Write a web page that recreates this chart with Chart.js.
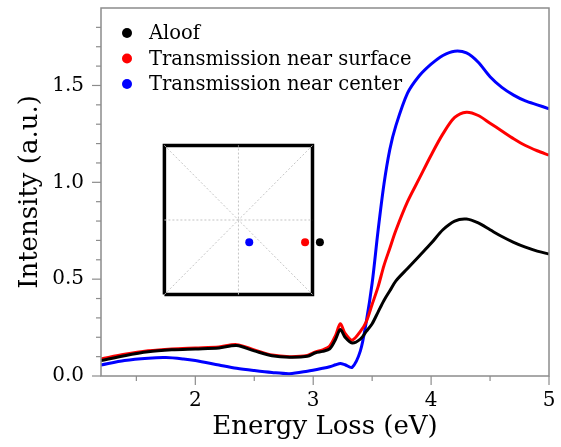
<!DOCTYPE html>
<html><head><meta charset="utf-8">
<script src="https://cdn.jsdelivr.net/npm/chart.js@4.4.0/dist/chart.umd.min.js"></script>
<style>
html,body{margin:0;padding:0;background:#fff;}
#wrap{position:relative;width:561px;height:447px;overflow:hidden;}
#mainBox{position:absolute;left:0;top:0;width:561px;height:447px;}
#insetBox{position:absolute;left:157px;top:138px;width:174px;height:164px;}
</style></head><body>
<div id="wrap">
  <div id="mainBox"><canvas id="main"></canvas></div>
  <div id="insetBox"><canvas id="inset"></canvas></div>
</div>
<script>
// ---------------- data ----------------
const seriesLabels = ["Aloof", "Transmission near surface", "Transmission near center"];

const energyAloof = [1.2,1.4,1.6,1.8,2.0,2.2,2.35,2.5,2.65,2.8,2.95,3.02,3.08,3.14,3.19,3.23,3.27,3.33,3.4,3.45,3.5,3.55,3.6,3.65,3.7,3.8,3.9,4.0,4.1,4.2,4.3,4.4,4.5,4.6,4.7,4.8,4.9,5.0];
const aloof       = [0.08,0.105,0.125,0.135,0.14,0.145,0.157,0.13,0.105,0.097,0.102,0.12,0.127,0.14,0.19,0.24,0.2,0.17,0.19,0.23,0.27,0.33,0.39,0.44,0.49,0.555,0.62,0.685,0.755,0.8,0.81,0.79,0.755,0.72,0.69,0.665,0.645,0.63];

const energySurface = [1.2,1.4,1.6,1.8,2.0,2.2,2.35,2.5,2.65,2.8,2.95,3.02,3.08,3.14,3.19,3.23,3.27,3.33,3.4,3.45,3.5,3.55,3.6,3.65,3.7,3.8,3.9,4.0,4.1,4.2,4.3,4.4,4.5,4.6,4.7,4.8,4.9,5.0];
const nearSurface   = [0.088,0.112,0.13,0.14,0.145,0.15,0.162,0.135,0.108,0.1,0.106,0.125,0.135,0.155,0.21,0.27,0.22,0.185,0.23,0.28,0.37,0.46,0.57,0.66,0.75,0.9,1.02,1.14,1.25,1.335,1.362,1.345,1.305,1.265,1.225,1.19,1.163,1.14];

const energyCenter = [1.2,1.4,1.6,1.75,1.9,2.0,2.2,2.35,2.5,2.65,2.8,2.95,3.08,3.14,3.19,3.23,3.27,3.33,3.4,3.45,3.5,3.55,3.6,3.65,3.7,3.8,3.9,4.0,4.1,4.2,4.3,4.4,4.5,4.6,4.7,4.8,4.9,5.0];
const nearCenter   = [0.057,0.08,0.092,0.095,0.088,0.08,0.057,0.04,0.028,0.018,0.012,0.025,0.04,0.048,0.058,0.065,0.058,0.045,0.13,0.28,0.48,0.75,0.99,1.17,1.29,1.46,1.55,1.61,1.655,1.677,1.668,1.62,1.545,1.49,1.45,1.42,1.40,1.38];

const xTickLabels = [2, 3, 4, 5];
const xMinorTicks = [1.5, 2.5, 3.5, 4.5];
const yTickLabels = [0, 0.5, 1.0, 1.5];
const yMinorTicks = [0.1,0.2,0.3,0.4,0.6,0.7,0.8,0.9,1.1,1.2,1.3,1.4,1.6,1.7,1.8];

// inset (probe positions in a unit square)
const insetProbeX = [1.1, 0.9, 0.146];
const insetProbeY = [-0.3, -0.3, -0.3];
const insetSquareX = [-1, 1, 1, -1, -1];
const insetSquareY = [-1, -1, 1, 1, -1];

const colors = ["#000000", "#ff0000", "#0000ff"];
const serif = '"DejaVu Serif", "Liberation Serif", serif';

const pts = (xs, ys) => xs.map((x, i) => ({x: x, y: ys[i]}));

// ---------------- plugins ----------------
const framePlugin = {
  id: 'frameTicks',
  afterDatasetsDraw(chart) {
    const {ctx, chartArea: a, scales: {x, y}} = chart;
    ctx.save();
    ctx.strokeStyle = '#8c8c8c';
    ctx.lineWidth = 1.5;
    ctx.strokeRect(a.left, a.top, a.right - a.left, a.bottom - a.top);
    ctx.lineWidth = 1.2;
    const seg = (x1, y1, x2, y2) => { ctx.beginPath(); ctx.moveTo(x1, y1); ctx.lineTo(x2, y2); ctx.stroke(); };
    yTickLabels.forEach(v => { const p = y.getPixelForValue(v); seg(a.left - 9, p, a.left, p); });
    yMinorTicks.forEach(v => { const p = y.getPixelForValue(v); seg(a.left - 5, p, a.left, p); });
    xTickLabels.forEach(v => { const p = x.getPixelForValue(v); seg(p, a.bottom, p, a.bottom + 9); });
    xMinorTicks.forEach(v => { const p = x.getPixelForValue(v); seg(p, a.bottom, p, a.bottom + 5); });
    ctx.restore();
  }
};

const legendPlugin = {
  id: 'insideLegend',
  afterDraw(chart) {
    const ctx = chart.ctx, a = chart.chartArea;
    ctx.save();
    ctx.font = '19.5px ' + serif;
    ctx.textBaseline = 'middle';
    ctx.textAlign = 'left';
    chart.data.datasets.forEach((ds, i) => {
      const yy = a.top + 25 + i * 25.5;
      ctx.fillStyle = ds.borderColor;
      ctx.beginPath(); ctx.arc(a.left + 26, yy, 5, 0, 2 * Math.PI); ctx.fill();
      ctx.fillStyle = '#000';
      ctx.fillText(ds.label, a.left + 48, yy + 1);
    });
    ctx.restore();
  }
};

const noPad = s => { s.paddingTop = 0; s.paddingBottom = 0; s.paddingLeft = 0; s.paddingRight = 0; };

// ---------------- main chart ----------------
new Chart(document.getElementById('main'), {
  type: 'line',
  data: {
    datasets: [
      {label: seriesLabels[0], data: pts(energyAloof, aloof), borderColor: colors[0], backgroundColor: colors[0]},
      {label: seriesLabels[1], data: pts(energySurface, nearSurface), borderColor: colors[1], backgroundColor: colors[1]},
      {label: seriesLabels[2], data: pts(energyCenter, nearCenter), borderColor: colors[2], backgroundColor: colors[2]}
    ].map(d => Object.assign(d, {borderWidth: 3, pointRadius: 0, pointHoverRadius: 0, tension: 0.3, fill: false}))
  },
  options: {
    responsive: true,
    maintainAspectRatio: false,
    animation: false,
    layout: {padding: {top: 8, right: 12, left: 0, bottom: 0}, autoPadding: false},
    plugins: {legend: {display: false}, tooltip: {enabled: false}},
    scales: {
      x: {
        type: 'linear', min: 1.2, max: 5,
        afterBuildTicks: s => { s.ticks = xTickLabels.map(v => ({value: v})); },
        afterFit: s => { s.height = 71; noPad(s); },
        grid: {display: false, drawTicks: false},
        border: {display: false},
        ticks: {font: {family: serif, size: 20}, color: '#000', padding: 13, maxRotation: 0, callback: v => String(v)},
        title: {display: true, text: 'Energy Loss (eV)', font: {family: serif, size: 26}, color: '#000', padding: {top: 0, bottom: 4}}
      },
      y: {
        type: 'linear', min: 0, max: 1.9,
        afterBuildTicks: s => { s.ticks = yTickLabels.map(v => ({value: v})); },
        afterFit: s => { s.width = 101; noPad(s); },
        grid: {display: false, drawTicks: false},
        border: {display: false},
        ticks: {font: {family: serif, size: 20}, color: '#000', padding: 17, callback: v => Number(v).toFixed(1)},
        title: {display: true, text: 'Intensity (a.u.)', font: {family: serif, size: 26}, color: '#000', padding: {top: 15, bottom: 0}}
      }
    }
  },
  plugins: [framePlugin, legendPlugin]
});

// ---------------- inset chart ----------------
const guide = (xs, ys) => ({data: pts(xs, ys), showLine: true, borderColor: '#c4c4c4', borderWidth: 1, borderDash: [2, 2], pointRadius: 0});
new Chart(document.getElementById('inset'), {
  type: 'scatter',
  data: {
    datasets: [
      guide([-1, 1], [0, 0]),
      guide([0, 0], [-1, 1]),
      guide([-1, 1], [-1, 1]),
      guide([-1, 1], [1, -1]),
      {data: pts(insetSquareX, insetSquareY), showLine: true, borderColor: '#000', borderWidth: 3.5, pointRadius: 0},
      {data: [{x: insetProbeX[0], y: insetProbeY[0]}], pointRadius: 4, backgroundColor: colors[0], borderWidth: 0},
      {data: [{x: insetProbeX[1], y: insetProbeY[1]}], pointRadius: 4, backgroundColor: colors[1], borderWidth: 0},
      {data: [{x: insetProbeX[2], y: insetProbeY[2]}], pointRadius: 4, backgroundColor: colors[2], borderWidth: 0}
    ]
  },
  options: {
    responsive: true,
    maintainAspectRatio: false,
    animation: false,
    layout: {padding: 0, autoPadding: false},
    plugins: {legend: {display: false}, tooltip: {enabled: false}},
    scales: {
      x: {type: 'linear', min: -1.1, max: 1.25, display: false},
      y: {type: 'linear', min: -1.1, max: 1.1, display: false}
    }
  }
});
</script>
</body></html>
